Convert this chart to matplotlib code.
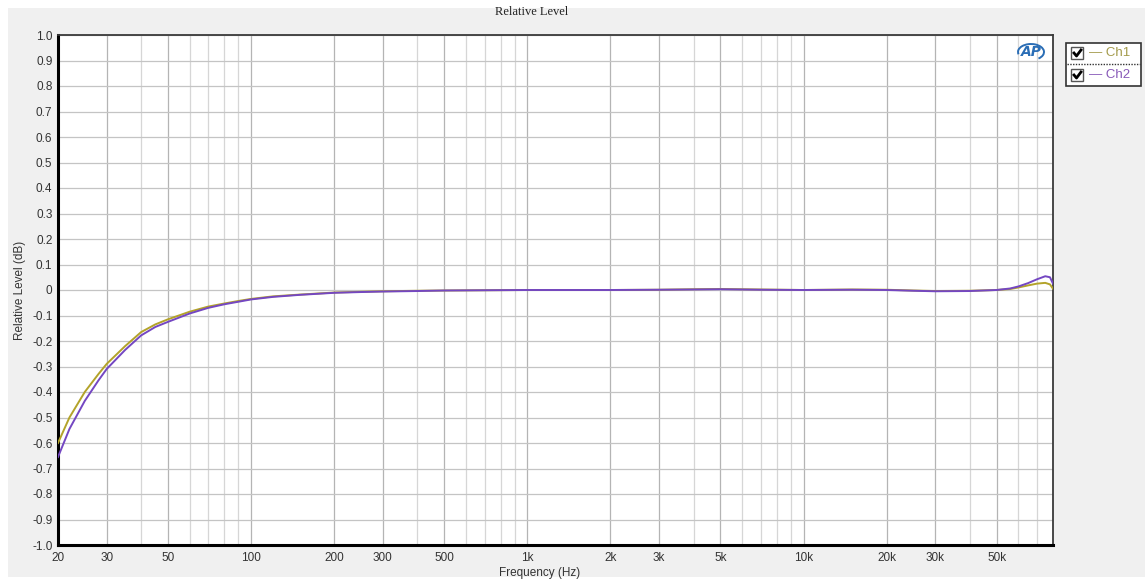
import matplotlib
matplotlib.use('Agg')
import matplotlib.pyplot as plt
import numpy as np
from matplotlib.patches import Rectangle, Arc
from matplotlib.lines import Line2D


# 読み取った値 (周波数 Hz / 相対レベル dB)
freq = [20, 22, 25, 28, 30, 35, 40, 45, 50, 60, 70, 80, 90, 100, 120, 150,
        200, 250, 300, 400, 500, 700, 1000, 2000, 3000, 4000, 5000, 7000,
        10000, 15000, 20000, 25000, 30000, 40000, 50000, 56000, 60000,
        65000, 70000, 75000, 78000, 80000]
ch1 = [-0.600, -0.500, -0.400, -0.330, -0.290, -0.220, -0.165, -0.135, -0.115,
       -0.085, -0.065, -0.053, -0.043, -0.035, -0.025, -0.018, -0.010, -0.007,
       -0.005, -0.003, -0.002, -0.001, 0.000, 0.000, 0.001, 0.003, 0.004,
       0.002, 0.000, 0.002, 0.001, -0.002, -0.004, -0.003, 0.000, 0.004,
       0.010, 0.018, 0.025, 0.028, 0.022, 0.005]
ch2 = [-0.655, -0.545, -0.435, -0.355, -0.310, -0.235, -0.178, -0.145, -0.125,
       -0.092, -0.070, -0.056, -0.046, -0.037, -0.027, -0.019, -0.011, -0.008,
       -0.006, -0.004, -0.002, -0.001, 0.000, 0.000, 0.001, 0.002, 0.003,
       0.001, 0.000, 0.001, 0.000, -0.003, -0.005, -0.004, 0.000, 0.006,
       0.014, 0.027, 0.042, 0.054, 0.050, 0.025]

xtick_vals = [20, 30, 50, 100, 200, 300, 500, 1000, 2000, 3000, 5000,
              10000, 20000, 30000, 50000]
xtick_labels = ['20', '30', '50', '100', '200', '300', '500', '1k', '2k', '3k',
                '5k', '10k', '20k', '30k', '50k']
ytick_vals = [round(v, 1) for v in np.arange(-1.0, 1.01, 0.1)]

c1 = '#b3a32a'
c2 = '#7447c2'

W, H = 1145, 580


def px(x, y):
    # ピクセル座標 -> figure座標
    return x / W, 1 - y / H


fig = plt.figure(figsize=(W / 100, H / 100), dpi=100)
fig.patch.set_facecolor('white')
bg = Rectangle(px(8, 577), (W - 8) / W, (577 - 8) / H, transform=fig.transFigure,
               facecolor='#f0f0f0', edgecolor='none', zorder=-10)
fig.add_artist(bg)

l, t = px(58, 35)
r, b = px(1053, 545)
ax = fig.add_axes([l, b, r - l, t - b])
ax.set_facecolor('white')

ax.plot(freq, ch1, color=c1, lw=1.4, zorder=3)
ax.plot(freq, ch2, color=c2, lw=1.4, zorder=4)

ax.set_xscale('log')
ax.set_xlim(20, 80000)
ax.set_ylim(-1.0, 1.0)

minor = []
for d in [10, 100, 1000, 10000]:
    for m in [4, 6, 7, 8, 9]:
        if m * d < 80000:
            minor.append(m * d)
ax.set_xticks(xtick_vals)
ax.set_xticklabels(xtick_labels)
ax.set_xticks(minor, minor=True)
ax.xaxis.set_minor_formatter(plt.NullFormatter())
ax.set_yticks(ytick_vals)
ax.set_yticklabels(['0' if v == 0 else '%.1f' % v for v in ytick_vals])

ax.tick_params(which='both', length=0)
ax.tick_params(axis='x', pad=5, labelsize=8.5, labelcolor='#333333')
ax.tick_params(axis='y', pad=4, labelsize=8.5, labelcolor='#333333')
for lab in ax.get_xticklabels() + ax.get_yticklabels():
    lab.set_family('Liberation Sans')

ax.grid(which='major', axis='x', color='#b4b4b4', lw=0.9)
ax.grid(which='minor', axis='x', color='#d6d6d6', lw=0.9)
ax.grid(which='major', axis='y', color='#c4c4c4', lw=0.9)
ax.set_axisbelow(True)

ax.spines['left'].set_linewidth(2.2)
ax.spines['bottom'].set_linewidth(2.2)
ax.spines['left'].set_color('black')
ax.spines['bottom'].set_color('black')
ax.spines['top'].set_linewidth(1.3)
ax.spines['right'].set_linewidth(1.3)
ax.spines['top'].set_color('#3a3a3a')
ax.spines['right'].set_color('#3a3a3a')

fig.text(*px(532, 12), 'Relative Level', ha='center', va='center',
         family='Liberation Serif', fontsize=9, color='#222222')
fig.text(*px(540, 573), 'Frequency (Hz)', ha='center', va='center',
         family='Liberation Sans', fontsize=8.5, color='#333333')
fig.text(*px(20, 290), 'Relative Level (dB)', ha='center', va='center',
         rotation=90, family='Liberation Sans', fontsize=8.5, color='#333333')

# APロゴ
fig.text(*px(1031, 52), 'AP', ha='center', va='center', fontsize=10,
         fontweight='bold', style='italic', color='#2a6db5',
         family='DejaVu Sans')
lx, ly = px(1031, 52)
fig.add_artist(Arc((lx, ly), 26 / W, 16 / H, theta1=-60, theta2=200,
                   transform=fig.transFigure, color='#2a6db5', lw=1.4))

# 凡例
bx0, by0 = px(1066, 86)
fig.add_artist(Rectangle((bx0, by0), (1141 - 1066) / W, (86 - 43) / H,
                         transform=fig.transFigure, facecolor='white',
                         edgecolor='#333333', lw=1.2))
sx0, sy = px(1067, 64)
sx1, _ = px(1140, 64)
fig.add_artist(Line2D([sx0, sx1], [sy, sy], transform=fig.transFigure,
                      color='#333333', lw=1.0, ls=(0, (1, 1))))
for name, col, tcol, yc in [('Ch1', c1, '#a39a4a', 53), ('Ch2', c2, '#8758b8', 75)]:
    cx, cy = px(1071, yc + 6)
    fig.add_artist(Rectangle((cx, cy), 12 / W, 12 / H, transform=fig.transFigure,
                             facecolor='white', edgecolor='#555555', lw=1.0))
    xa, ya = px(1074, yc)
    xb, yb = px(1076.5, yc + 3)
    xc, yc2 = px(1081, yc - 3)
    fig.add_artist(Line2D([xa, xb, xc], [ya, yb, yc2], transform=fig.transFigure,
                          color='black', lw=2.0))
    fig.text(*px(1089, yc), '\u2014 ' + name, ha='left', va='center',
             family='Liberation Sans', fontsize=9.5, color=tcol)

fig.savefig('out.png', dpi=100)
